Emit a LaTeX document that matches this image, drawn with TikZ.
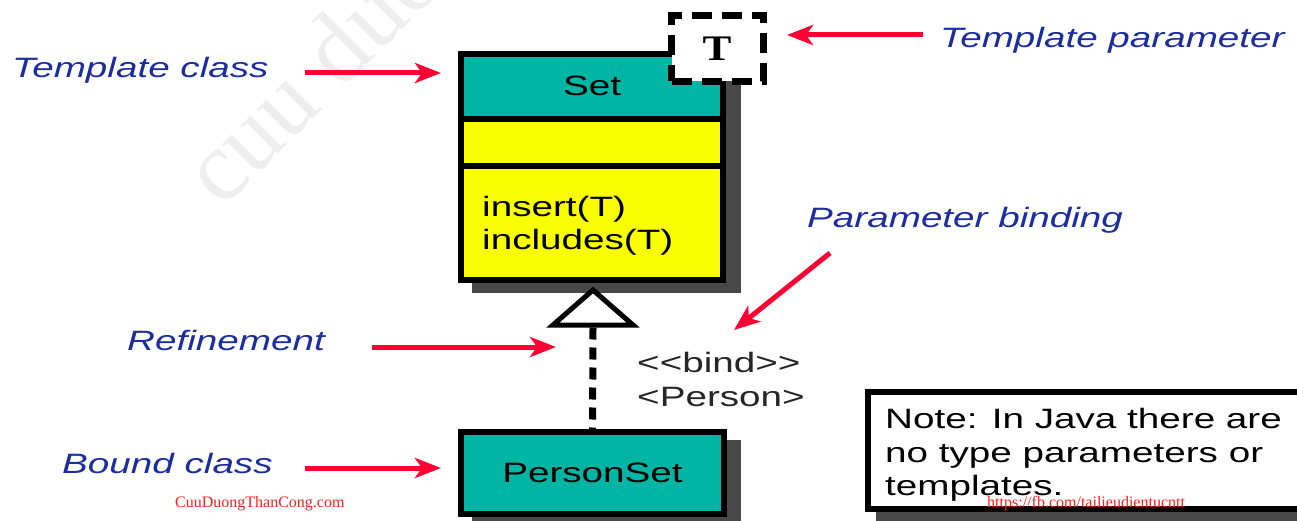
\documentclass[tikz,border=0pt]{standalone}
\usepackage{fontspec}
\setmainfont{Liberation Sans}
\newfontfamily\serifface{Liberation Serif}
\usepackage{graphicx}
\usetikzlibrary{arrows.meta}
\definecolor{umlteal}{RGB}{0,181,164}
\definecolor{umlyellow}{RGB}{250,255,0}
\definecolor{shadowgray}{RGB}{72,72,72}
\definecolor{lblue}{RGB}{28,45,160}
\definecolor{ared}{RGB}{255,0,51}
\definecolor{wmred}{RGB}{255,30,30}
\definecolor{wmgray}{RGB}{238,238,238}
\newcommand{\wide}[1]{\scalebox{1.38}[1]{#1}}
\begin{document}
\begin{tikzpicture}[x=1pt,y=-1pt,
  callout/.style={text=lblue, font=\fontsize{28}{34}\selectfont\itshape, anchor=base west, inner sep=0pt},
  bodytext/.style={font=\fontsize{28}{34}\selectfont, inner sep=0pt},
  ptr/.style={draw=ared, line width=5pt, -{Stealth[length=26pt,width=20pt,inset=7pt]}},
  shadowbox/.style={fill=shadowgray},
  umlbox/.style={draw, line width=6pt, inner sep=0pt, outer sep=0pt},
  foot/.style={text=wmred, font=\serifface\fontsize{16}{16}\selectfont, anchor=base west, inner sep=0pt},
  wmark/.style={text=wmgray, font=\serifface\fontsize{100}{100}\selectfont, inner sep=0pt}
]
\useasboundingbox (0,0) rectangle (1297,521);

% faint watermark
\begin{scope}
\clip (0,0) rectangle (1297,521);
\node[wmark, rotate=45, anchor=base west] (wm) at (222,210) {cuu duong than cong . com};
\end{scope}

% shadows
\fill[shadowbox] (472,63) rectangle (741,293);
\fill[shadowbox] (472,440) rectangle (741,530);
\fill[shadowbox] (876,400) rectangle (1310,530);

% template class Set
\fill[umlteal] (461,54.5) rectangle (723,119.5);
\fill[umlyellow] (461,119.5) rectangle (723,279.5);
\draw[line width=6pt] (461,119.5) -- (723,119.5);
\draw[line width=6pt] (461,166.5) -- (723,166.5);
\node[umlbox, minimum width=262pt, minimum height=225pt] (setbox) at (592,167) {};
\node[bodytext, anchor=base] (setname) at (592,96) {\wide{Set}};
\node[bodytext, anchor=base west] (op1) at (482,217) {\wide{insert(T)}};
\node[bodytext, anchor=base west] (op2) at (482,250) {\wide{includes(T)}};

% template parameter box
\node[draw, line width=7pt, dash pattern=on 20pt off 10pt, fill=white,
      minimum width=92pt, minimum height=66pt, inner sep=0pt] (tparam) at (717.5,48.5) {};
\node[font=\serifface\bfseries\fontsize{36}{36}\selectfont, anchor=base, inner sep=0pt] (tletter) at (717,61) {\scalebox{1.2}[1]{T}};

% refinement triangle and dashed line
\draw[line width=5pt, fill=white, line join=miter] (593,290) -- (553,325) -- (633,325) -- cycle;
\coordinate (tribase) at (593,327.5);

% bound class
\node[umlbox, fill=umlteal, minimum width=263pt, minimum height=82pt, font=\fontsize{28}{34}\selectfont] (personset) at (592.5,473) {\wide{PersonSet}};
\draw[line width=7pt, dash pattern=on 12pt off 8pt] (tribase) -- (personset.north);

% binding text
\node[bodytext, anchor=base west, text=black!85] (bind) at (637,372) {\wide{{<}{<}bind{>}{>}}};
\node[bodytext, anchor=base west, text=black!85] (bindtype) at (637,406) {\wide{{<}Person{>}}};

% note
\node[umlbox, fill=white, minimum width=437pt, minimum height=117pt, anchor=north west] (note) at (868,392) {};
\node[bodytext, anchor=base west] (note1) at (885,428) {\wide{Note: In Java there are}};
\node[bodytext, anchor=base west] (note2) at (885,462) {\wide{no type parameters or}};
\node[bodytext, anchor=base west] (note3) at (885,495) {\wide{templates.}};

% callouts
\node[callout] (ltclass) at (12,78) {\wide{Template class}};
\node[callout] (ltparam) at (940,48) {\wide{Template parameter}};
\node[callout] (lbinding) at (807,228) {\wide{Parameter binding}};
\node[callout] (lrefine) at (127,350) {\wide{Refinement}};
\node[callout] (lbound) at (62,473) {\wide{Bound class}};

\coordinate (a1s) at (305,73);  \coordinate (a1e) at (441,73);
\coordinate (a2s) at (923,35);  \coordinate (a2e) at (787,35);
\coordinate (a3s) at (830,253); \coordinate (a3e) at (734,330);
\coordinate (a4s) at (372,347); \coordinate (a4e) at (556,347);
\coordinate (a5s) at (305,468); \coordinate (a5e) at (441,468);
\draw[ptr] (a1s) -- (a1e);
\draw[ptr] (a2s) -- (a2e);
\draw[ptr] (a3s) -- (a3e);
\draw[ptr] (a4s) -- (a4e);
\draw[ptr] (a5s) -- (a5e);

% footer watermarks
\node[foot] (f1) at (175,507) {CuuDuongThanCong.com};
\node[foot] (f2) at (987,507) {https://fb.com/tailieudientucntt};
\end{tikzpicture}
\end{document}
